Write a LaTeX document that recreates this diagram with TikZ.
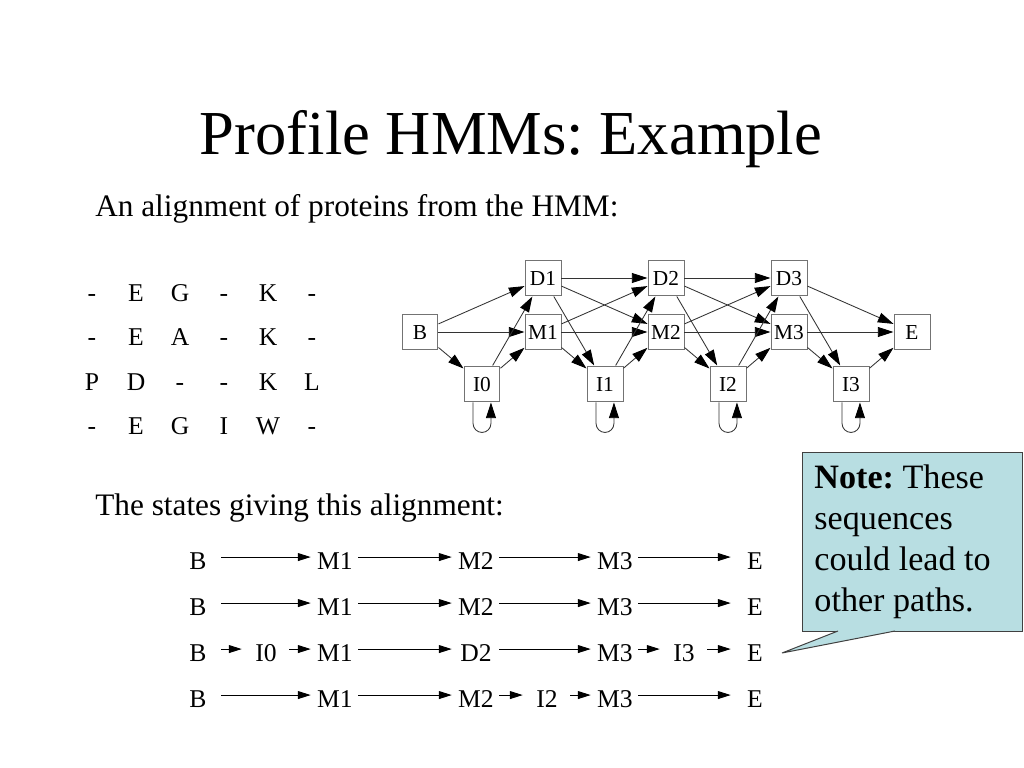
\documentclass[tikz,border=0pt]{standalone}
\usepackage{fontspec}
\setmainfont{Liberation Serif}
\usetikzlibrary{arrows.meta}
\usetikzlibrary{positioning}
\definecolor{notefill}{RGB}{184,222,226}
\frenchspacing

\begin{document}
\begin{tikzpicture}[
                x = 0.703125pt, y = -0.703125pt,
                hbox/.style = {draw = black!55, fill = white, line width = 0.7pt,
                  minimum size = 25.3pt, inner sep = 0pt,
                  text height = 9.9pt, text depth = 0pt,
                  font = \fontsize{15}{17}\selectfont},
                harr/.style = {draw = black!80, line width = 0.6pt,
                  -{Triangle[length = 11pt, width = 7pt, color = black]}},
                pstate/.style = {inner sep = 0pt, minimum width = 28.1pt,
                  text height = 16.8pt, text depth = 0pt, anchor = base,
                  font = \fontsize{18}{22}\selectfont},
                parr/.style = {line width = 0.7pt, shorten < = 2.1pt, shorten > = 2.8pt,
                  -{Triangle[length = 9pt, width = 5.5pt]}},
                letter/.style = {anchor = base, inner sep = 0pt,
                  font = \fontsize{18}{22}\selectfont},
                note/.style = {draw = black!75, fill = notefill, line width = 0.7pt,
                  text width = 138pt, inner xsep = 8.4pt, minimum height = 125.9pt,
                  align = flush left, font = \fontsize{24}{28.8}\selectfont}
                ]
              \path[fill = white] (0,0) rectangle (1024,768);

              % Headings
              \node[anchor = base, font = \fontsize{44}{53}\selectfont] (title)
                at (511,155) {Profile HMMs: Example};
              \node[anchor = base west, inner sep = 0pt, font = \fontsize{22}{26}\selectfont]
                (sub) at (95,217) {An alignment of proteins from the HMM:};
              \node[anchor = base west, inner sep = 0pt, font = \fontsize{22}{26}\selectfont]
                (states) at (95,515) {The states giving this alignment:};

              % Alignment
              \begin{scope}[nodes = {letter}]
                \path (92,302) node (a11) {-} (136,302) node (a12) {E} (180,302) node (a13) {G}
                      (224,302) node (a14) {-} (268,302) node (a15) {K} (312,302) node (a16) {-};
                \path (92,346) node (a21) {-} (136,346) node (a22) {E} (180,346) node (a23) {A}
                      (224,346) node (a24) {-} (268,346) node (a25) {K} (312,346) node (a26) {-};
                \path (92,390) node (a31) {P} (136,390) node (a32) {D} (180,390) node (a33) {-}
                      (224,390) node (a34) {-} (268,390) node (a35) {K} (312,390) node (a36) {L};
                \path (92,434) node (a41) {-} (136,434) node (a42) {E} (180,434) node (a43) {G}
                      (224,434) node (a44) {I} (268,434) node (a45) {W} (312,434) node (a46) {-};
              \end{scope}

              % HMM
              \begin{scope}[nodes = {hbox}]
                \node (B)  at (420,332) {B};
                \node (D1) at (543,278) {D1};
                \node (M1) at (543,332) {M1};
                \node (I0) at (482,384) {I0};
                \node (D2) at (666,278) {D2};
                \node (M2) at (666,332) {M2};
                \node (I1) at (605,384) {I1};
                \node (D3) at (789,278) {D3};
                \node (M3) at (789,332) {M3};
                \node (I2) at (728,384) {I2};
                \node (I3) at (851,384) {I3};
                \node (E)  at (912,332) {E};
              \end{scope}

              \draw[harr] (B) -- (D1);  \draw[harr] (B) -- (M1);  \draw[harr] (B) -- (I0);
              \draw[harr] (I0) -- (D1); \draw[harr] (I0) -- (M1);
              \draw[harr] (D1) -- (D2); \draw[harr] (D1) -- (M2); \draw[harr] (D1) -- (I1);
              \draw[harr] (M1) -- (D2); \draw[harr] (M1) -- (M2); \draw[harr] (M1) -- (I1);
              \draw[harr] (I1) -- (D2); \draw[harr] (I1) -- (M2);
              \draw[harr] (D2) -- (D3); \draw[harr] (D2) -- (M3); \draw[harr] (D2) -- (I2);
              \draw[harr] (M2) -- (D3); \draw[harr] (M2) -- (M3); \draw[harr] (M2) -- (I2);
              \draw[harr] (I2) -- (D3); \draw[harr] (I2) -- (M3);
              \draw[harr] (D3) -- (E);  \draw[harr] (D3) -- (I3);
              \draw[harr] (M3) -- (E);  \draw[harr] (M3) -- (I3);
              \draw[harr] (I3) -- (E);

              % Self loops
              \draw[harr] ([xshift = -6.3pt]I0.south) -- ++(0,21)
                arc[start angle = 180, end angle = 360, radius = 6.3pt] -- ([xshift = 6.3pt]I0.south);
              \draw[harr] ([xshift = -6.3pt]I1.south) -- ++(0,21)
                arc[start angle = 180, end angle = 360, radius = 6.3pt] -- ([xshift = 6.3pt]I1.south);
              \draw[harr] ([xshift = -6.3pt]I2.south) -- ++(0,21)
                arc[start angle = 180, end angle = 360, radius = 6.3pt] -- ([xshift = 6.3pt]I2.south);
              \draw[harr] ([xshift = -6.3pt]I3.south) -- ++(0,21)
                arc[start angle = 180, end angle = 360, radius = 6.3pt] -- ([xshift = 6.3pt]I3.south);

              % State paths
              \begin{scope}[nodes = {pstate}]
                \node (p1B) at (198,569) {B};   \node (p1M1) at (335,569) {M1};
                \node (p1M2) at (476,569) {M2}; \node (p1M3) at (615,569) {M3};
                \node (p1E) at (755,569) {E};

                \node (p2B) at (198,615) {B};   \node (p2M1) at (335,615) {M1};
                \node (p2M2) at (476,615) {M2}; \node (p2M3) at (615,615) {M3};
                \node (p2E) at (755,615) {E};

                \node (p3B) at (198,661) {B};   \node (p3I0) at (266,661) {I0};
                \node (p3M1) at (335,661) {M1}; \node (p3D2) at (476,661) {D2};
                \node (p3M3) at (615,661) {M3}; \node (p3I3) at (684,661) {I3};
                \node (p3E) at (755,661) {E};

                \node (p4B) at (198,707) {B};   \node (p4M1) at (335,707) {M1};
                \node (p4M2) at (476,707) {M2}; \node (p4I2) at (547,707) {I2};
                \node (p4M3) at (615,707) {M3}; \node (p4E) at (755,707) {E};
              \end{scope}

              \draw[parr] (p1B) -- (p1M1); \draw[parr] (p1M1) -- (p1M2);
              \draw[parr] (p1M2) -- (p1M3); \draw[parr] (p1M3) -- (p1E);
              \draw[parr] (p2B) -- (p2M1); \draw[parr] (p2M1) -- (p2M2);
              \draw[parr] (p2M2) -- (p2M3); \draw[parr] (p2M3) -- (p2E);
              \draw[parr] (p3B) -- (p3I0); \draw[parr] (p3I0) -- (p3M1);
              \draw[parr] (p3M1) -- (p3D2); \draw[parr] (p3D2) -- (p3M3);
              \draw[parr] (p3M3) -- (p3I3); \draw[parr] (p3I3) -- (p3E);
              \draw[parr] (p4B) -- (p4M1); \draw[parr] (p4M1) -- (p4M2);
              \draw[parr] (p4M2) -- (p4I2); \draw[parr] (p4I2) -- (p4M3);
              \draw[parr] (p4M3) -- (p4E);

              % Note
              \node[note, anchor = north west] (remark) at (802,452)
                {\textbf{Note:} These\\sequences\\could lead to\\other paths.};
              \coordinate (tip) at (782,653);
              \coordinate (baseA) at (838,631);
              \coordinate (baseB) at (895,631);
              \fill[notefill] (baseA) -- (tip) -- (baseB) -- cycle;
              \draw[black!75, line width = 0.7pt] (baseA) -- (tip) -- (baseB);
            \end{tikzpicture}
\end{document}
